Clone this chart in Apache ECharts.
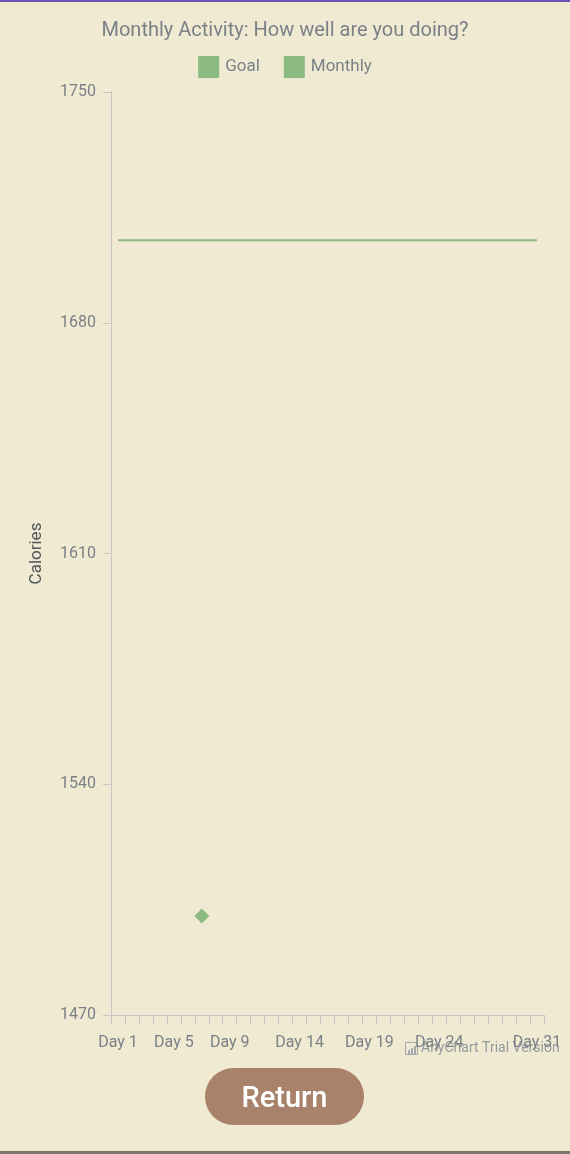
<!DOCTYPE html>
<html>
<head>
<meta charset="utf-8">
<title>Monthly Activity</title>
<script src="https://cdn.jsdelivr.net/npm/echarts@6/dist/echarts.min.js"></script>
<style>
  html, body { margin: 0; padding: 0; background: #f0ead3; }
  #chart { width: 570px; height: 1154px; }
</style>
</head>
<body>
<div id="chart"></div>
<script>
// categories (one per day of the month)
const days = ['Day 1', 'Day 2', 'Day 3', 'Day 4', 'Day 5', 'Day 6', 'Day 7', 'Day 8',
  'Day 9', 'Day 10', 'Day 11', 'Day 12', 'Day 13', 'Day 14', 'Day 15', 'Day 16',
  'Day 17', 'Day 18', 'Day 19', 'Day 20', 'Day 21', 'Day 22', 'Day 23', 'Day 24',
  'Day 25', 'Day 26', 'Day 27', 'Day 28', 'Day 29', 'Day 30', 'Day 31'];
// only these day labels are visible on the x axis
const shownDays = ['Day 1', 'Day 5', 'Day 9', 'Day 14', 'Day 19', 'Day 24', 'Day 31'];

// daily goal (calories)
const goalValues = [1705, 1705, 1705, 1705, 1705, 1705, 1705, 1705, 1705, 1705,
  1705, 1705, 1705, 1705, 1705, 1705, 1705, 1705, 1705, 1705, 1705, 1705, 1705,
  1705, 1705, 1705, 1705, 1705, 1705, 1705, 1705];
// recorded calories, only one day logged
const monthlyValues = [null, null, null, null, null, null, 1500, null, null, null,
  null, null, null, null, null, null, null, null, null, null, null, null, null,
  null, null, null, null, null, null, null, null];

const yMin = 1470;
const yMax = 1750;
const yStep = 70;

const textGray = '#7a8187';
const green = '#8cba80';
const axisGray = '#c6c5bf';

let myChart = echarts.init(document.getElementById('chart'));

myChart.setOption({
    backgroundColor: '#f0ead3',
    textStyle: {fontFamily: 'Roboto'},
    title: {
        text: 'Monthly Activity: How well are you doing?',
        left: 'center',
        top: 21,
        padding: 0,
        textStyle: {fontSize: 20, fontWeight: 'normal', color: textGray, fontFamily: 'Roboto'}
    },
    legend: {
        top: 56,
        left: 'center',
        padding: 0,
        icon: 'rect',
        itemWidth: 21,
        itemHeight: 22,
        itemGap: 24,
        textStyle: {fontSize: 17, color: textGray, fontFamily: 'Roboto', padding: [0, 0, 0, 1]},
        data: ['Goal', 'Monthly']
    },
    grid: {left: 111, right: 26, top: 92, bottom: 139, containLabel: false},
    xAxis: {
        type: 'category',
        data: days,
        boundaryGap: true,
        axisLine: {show: true, lineStyle: {color: axisGray, width: 1}},
        axisTick: {show: true, interval: 0, length: 9, lineStyle: {color: axisGray, width: 1}},
        axisLabel: {
            interval: (index, value) => shownDays.includes(value),
            margin: 20,
            fontSize: 16,
            color: textGray,
            fontFamily: 'Roboto'
        },
        splitLine: {show: false}
    },
    yAxis: {
        type: 'value',
        min: yMin,
        max: yMax,
        interval: yStep,
        name: 'Calories',
        nameLocation: 'middle',
        nameGap: 66,
        nameTextStyle: {fontSize: 17, color: '#50565c', fontFamily: 'Roboto'},
        axisLine: {show: true, lineStyle: {color: axisGray, width: 1}},
        axisTick: {show: true, length: 8, lineStyle: {color: axisGray}},
        axisLabel: {
            margin: 15, fontSize: 16, color: textGray, fontFamily: 'Roboto',
            formatter: v => String(v)
        },
        splitLine: {show: false}
    },
    series: [{
        name: 'Goal',
        type: 'line',
        data: goalValues,
        showSymbol: false,
        symbol: 'none',
        itemStyle: {color: green},
        lineStyle: {color: green, width: 2}
    }, {
        name: 'Monthly',
        type: 'scatter',
        data: monthlyValues,
        symbol: 'diamond',
        symbolSize: 15,
        itemStyle: {color: green, opacity: 1}
    }],
    graphic: [
        // top / bottom window edges
        {type: 'rect', shape: {x: 0, y: 0, width: 570, height: 2}, style: {fill: '#6a55b5'}},
        {type: 'rect', shape: {x: 0, y: 1151, width: 570, height: 3}, style: {fill: '#77776b'}},
        // trial watermark
        {type: 'rect', shape: {x: 405.5, y: 1042.5, width: 12, height: 12}, style: {fill: 'none', stroke: '#a4a8aa', lineWidth: 1}},
        {type: 'rect', shape: {x: 408, y: 1050, width: 2, height: 4}, style: {fill: '#a4a8aa'}},
        {type: 'rect', shape: {x: 411, y: 1048, width: 2, height: 6}, style: {fill: '#a4a8aa'}},
        {type: 'rect', shape: {x: 414, y: 1046, width: 2, height: 8}, style: {fill: '#a4a8aa'}},
        {
            type: 'text', left: 421, top: 1041,
            style: {text: 'AnyChart Trial Version', fontSize: 14, fill: '#959a9e', fontFamily: 'Roboto'}
        },
        // return button
        {
            type: 'rect',
            shape: {x: 205, y: 1068, width: 159, height: 57, r: 28.5},
            style: {fill: '#a8826a'}
        },
        {
            type: 'text', x: 284.5, y: 1100,
            style: {
                text: 'Return', fill: '#ffffff', fontSize: 29, fontWeight: 500,
                fontFamily: 'Roboto', align: 'center', verticalAlign: 'middle'
            }
        }
    ]
});
</script>
</body>
</html>
